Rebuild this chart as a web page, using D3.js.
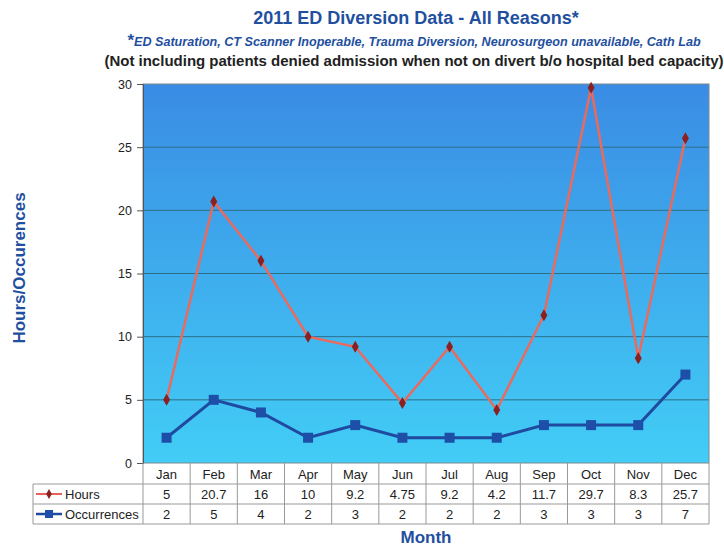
<!DOCTYPE html>
<html><head><meta charset="utf-8">
<script src="https://cdn.jsdelivr.net/npm/d3@7"></script>
<style>body{margin:0;background:#fff}svg{display:block}text{font-family:"Liberation Sans",Arial,sans-serif}</style>
</head><body>
<svg id="c" width="724" height="548"></svg>
<script>
const months = ["Jan","Feb","Mar","Apr","May","Jun","Jul","Aug","Sep","Oct","Nov","Dec"];
const hours = [5,20.7,16,10,9.2,4.75,9.2,4.2,11.7,29.7,8.3,25.7];
const hoursLabels = ["5","20.7","16","10","9.2","4.75","9.2","4.2","11.7","29.7","8.3","25.7"];
const occurrences = [2,5,4,2,3,2,2,2,3,3,3,7];
const yTicks = [0,5,10,15,20,25,30];

const svg = d3.select("#c");
const m = {l:143, r:709, t:84, b:463};
const x = d3.scaleBand().domain(months).range([m.l, m.r]).padding(0);
const y = d3.scaleLinear().domain([0,30]).range([m.b, m.t]);
const cx = d => x(d) + x.bandwidth()/2;

const defs = svg.append("defs");
const g = defs.append("linearGradient").attr("id","bg").attr("x1",0).attr("y1",0).attr("x2",0).attr("y2",1);
g.append("stop").attr("offset","0%").attr("stop-color","#3a8ce4");
g.append("stop").attr("offset","100%").attr("stop-color","#42cdf6");

svg.append("rect").attr("x",m.l).attr("y",m.t).attr("width",m.r-m.l).attr("height",m.b-m.t).attr("fill","url(#bg)");

// gridlines
svg.append("g").selectAll("line").data(yTicks.filter(t=>t>0 && t<30)).join("line")
  .attr("x1",m.l).attr("x2",m.r).attr("y1",d=>y(d)).attr("y2",d=>y(d))
  .attr("stroke","#2f6f86").attr("stroke-width",1);
svg.append("rect").attr("x",m.l).attr("y",m.t).attr("width",m.r-m.l).attr("height",m.b-m.t)
  .attr("fill","none").attr("stroke","#7a8a90").attr("stroke-width",1);

// y axis
const ya = svg.append("g").attr("transform",`translate(${m.l},0)`).call(d3.axisLeft(y).tickValues(yTicks).tickSize(6).tickPadding(5));
ya.select(".domain").attr("stroke","#555");
ya.selectAll(".tick line").attr("stroke","#555");
ya.selectAll("text").attr("font-size",12.5).attr("fill","#222").attr("font-family","'Liberation Sans',Arial,sans-serif");

// table
const tl = 33, rows = [463,484,504,524];
const tg = svg.append("g").attr("stroke","#999").attr("stroke-width",1);
tg.append("line").attr("x1",tl).attr("x2",m.r).attr("y1",rows[1]).attr("y2",rows[1]);
tg.append("line").attr("x1",tl).attr("x2",m.r).attr("y1",rows[2]).attr("y2",rows[2]);
tg.append("line").attr("x1",tl).attr("x2",m.r).attr("y1",rows[3]).attr("y2",rows[3]);
tg.append("line").attr("x1",tl).attr("x2",tl).attr("y1",rows[1]).attr("y2",rows[3]);
tg.selectAll(".v").data(months).join("line").attr("class","v")
  .attr("x1",d=>x(d)).attr("x2",d=>x(d)).attr("y1",rows[0]).attr("y2",rows[3]);
tg.append("line").attr("x1",m.r).attr("x2",m.r).attr("y1",rows[0]).attr("y2",rows[3]);

const tfont = "'Liberation Sans',Arial,sans-serif";
const tcell = sel => sel.attr("text-anchor","middle").attr("font-size",13).attr("font-family",tfont)
  .attr("fill","#222").attr("transform-origin",null);
svg.append("g").selectAll("text").data(months).join("text")
  .attr("x",d=>cx(d)).attr("y",(rows[0]+rows[1])/2+5).call(tcell).text(d=>d);
svg.append("g").selectAll("text").data(hoursLabels).join("text")
  .attr("x",(d,i)=>cx(months[i])).attr("y",(rows[1]+rows[2])/2+5).call(tcell).text(d=>d);
svg.append("g").selectAll("text").data(occurrences).join("text")
  .attr("x",(d,i)=>cx(months[i])).attr("y",(rows[2]+rows[3])/2+5).call(tcell).text(d=>d);

// legend keys in table
const hy = (rows[1]+rows[2])/2, oy = (rows[2]+rows[3])/2;
svg.append("line").attr("x1",36).attr("x2",62).attr("y1",hy).attr("y2",hy).attr("stroke","#e8625a").attr("stroke-width",2);
svg.append("path").attr("d",d3.symbol(d3.symbolDiamond,28)()).attr("transform",`translate(49,${hy})`).attr("fill","#8b2020");
svg.append("text").attr("x",65).attr("y",hy+5).attr("font-size",13).attr("font-family",tfont).attr("fill","#222").text("Hours");
svg.append("line").attr("x1",36).attr("x2",62).attr("y1",oy).attr("y2",oy).attr("stroke","#1f4aa0").attr("stroke-width",2.5);
svg.append("rect").attr("x",45).attr("y",oy-4).attr("width",8).attr("height",8).attr("fill","#1e4fa8");
svg.append("text").attr("x",65).attr("y",oy+5).attr("font-size",13).attr("font-family",tfont).attr("fill","#222").text("Occurrences");

// lines
const line = d3.line().x((d,i)=>cx(months[i])).y(d=>y(d));
svg.append("path").datum(occurrences).attr("d",line).attr("fill","none").attr("stroke","#1f4aa0").attr("stroke-width",3);
svg.append("g").selectAll("rect").data(occurrences).join("rect")
  .attr("x",(d,i)=>cx(months[i])-5).attr("y",d=>y(d)-5).attr("width",10).attr("height",10).attr("fill","#1e4fa8");
svg.append("path").datum(hours).attr("d",line).attr("fill","none").attr("stroke","#ea6a5e").attr("stroke-width",2.5);
svg.append("g").selectAll("path").data(hours).join("path")
  .attr("d",d3.symbol(d3.symbolDiamond,42)()).attr("transform",(d,i)=>`translate(${cx(months[i])},${y(d)})`).attr("fill","#8b2020");

// titles
const blue = "#1f50a0";
svg.append("text").attr("x",416).attr("y",24).attr("text-anchor","middle").attr("font-size",18).attr("font-weight","bold").attr("fill",blue).text("2011 ED Diversion Data - All Reasons*");
const st = svg.append("text").attr("x",414).attr("y",46).attr("text-anchor","middle").attr("font-size",12.6).attr("font-weight","bold").attr("font-style","italic").attr("fill",blue);
st.append("tspan").attr("font-size",17).attr("font-style","normal").text("*");
st.append("tspan").text("ED Saturation, CT Scanner Inoperable, Trauma Diversion, Neurosurgeon unavailable, Cath Lab");
svg.append("text").attr("x",414).attr("y",66).attr("text-anchor","middle").attr("font-size",15).attr("font-weight","bold").attr("fill","#222").text("(Not including patients denied admission when not on divert b/o hospital bed capacity)");
svg.append("text").attr("transform","translate(25,268) rotate(-90)").attr("text-anchor","middle").attr("font-size",17).attr("font-weight","bold").attr("fill",blue).text("Hours/Occurences");
svg.append("text").attr("x",426).attr("y",543).attr("text-anchor","middle").attr("font-size",17).attr("font-weight","bold").attr("fill",blue).text("Month");
</script>
</body></html>
